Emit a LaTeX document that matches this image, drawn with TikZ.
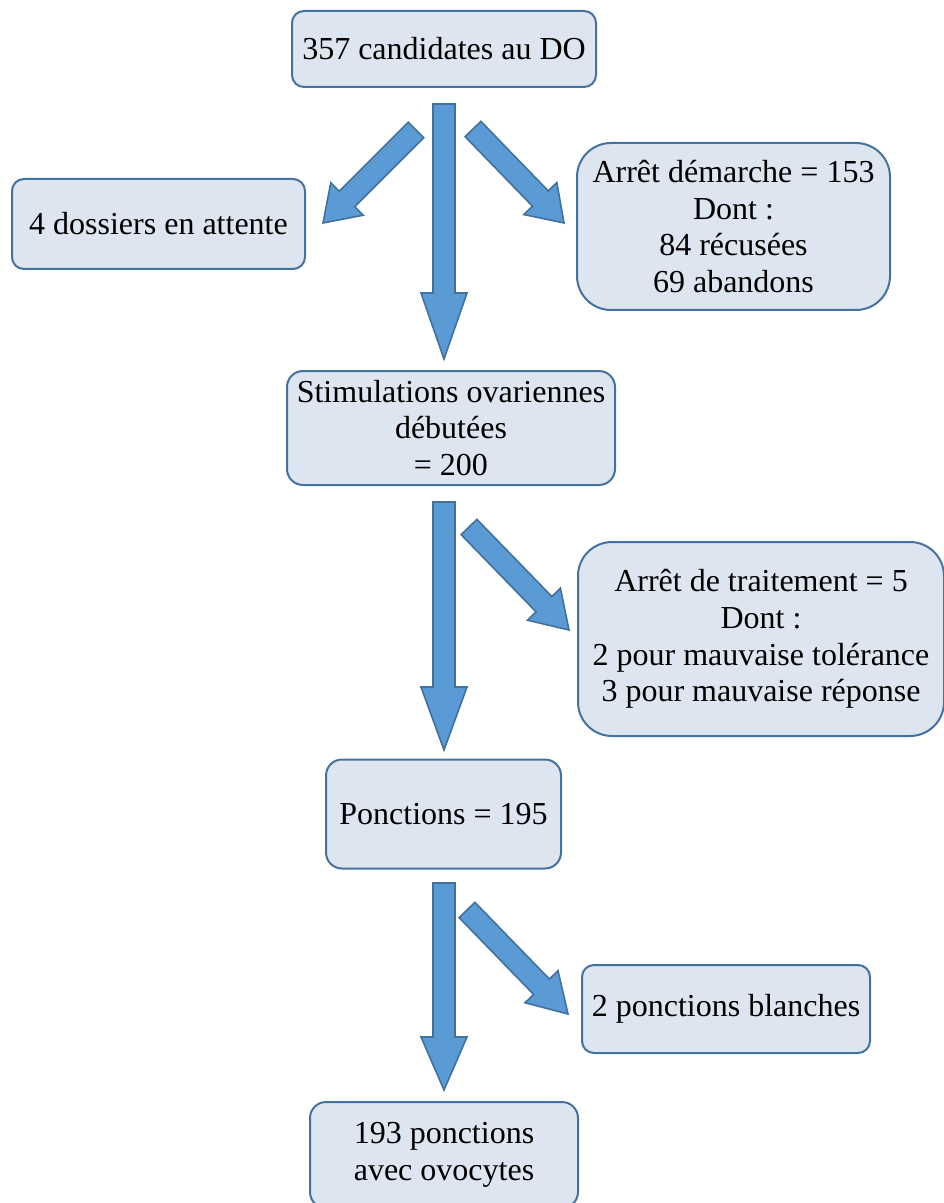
\documentclass[tikz,border=0pt]{standalone}
\usepackage{fontspec}
\setmainfont{Liberation Serif}
\usetikzlibrary{calc}
\definecolor{boxfill}{RGB}{221,229,240}
\definecolor{boxline}{RGB}{68,114,160}
\definecolor{arrfill}{RGB}{91,155,213}
\definecolor{arrline}{RGB}{65,113,156}
\newcommand\blockarr[3]{%
  \coordinate (bh) at ($(#2)!#3!(#1)$);
  \draw[barr] ($(#1)!5.5pt!90:(#2)$) -- ($(bh)!5.5pt!-90:(#1)$) -- ($(bh)!11.5pt!-90:(#1)$) -- (#2)
    -- ($(bh)!11.5pt!90:(#1)$) -- ($(bh)!5.5pt!90:(#1)$) -- ($(#1)!5.5pt!-90:(#2)$) -- cycle;}
\begin{document}
\begin{tikzpicture}[x=0.5pt,y=-0.5pt,
  box/.style={draw=boxline, line width=1pt, fill=boxfill, rounded corners=6pt,
    align=center, inner sep=0pt, font=\fontsize{16}{18.4}\selectfont},
  barr/.style={draw=arrline, fill=arrfill, line width=0.8pt, line join=miter}]
\useasboundingbox (0,0) rectangle (943,1203);

\node[box, minimum width=152pt, minimum height=38pt] (top) at (444,49) {357 candidates au DO};
\node[box, minimum width=146.5pt, minimum height=45pt] (att) at (158.5,224) {4 dossiers en attente};
\node[box, rounded corners=17pt, minimum width=156.5pt, minimum height=83.5pt] (arr1) at (733.5,226.5)
  {Arrêt démarche = 153\\Dont :\\84 récusées\\69 abandons};
\node[box, rounded corners=8pt, minimum width=164pt, minimum height=57pt] (stim) at (451,428)
  {Stimulations ovariennes\\débutées\\ = 200};
\node[box, rounded corners=17pt, minimum width=183pt, minimum height=97pt] (arr2) at (761,639)
  {Arrêt de traitement = 5\\Dont :\\2 pour mauvaise tolérance\\3 pour mauvaise réponse};
\node[box, rounded corners=8pt, minimum width=117.5pt, minimum height=54.5pt] (ponc) at (443.5,814)
  {Ponctions = 195};
\node[box, minimum width=144pt, minimum height=44pt] (blan) at (726,1009) {2 ponctions blanches};
\node[box, rounded corners=8pt, minimum width=134pt, minimum height=53pt] (ovo) at (444,1155)
  {193 ponctions\\avec ovocytes};

\coordinate (s1) at (444,104); \coordinate (t1) at (444,359);
\coordinate (s2) at (416,130); \coordinate (t2) at (323,223);
\coordinate (s3) at (473,129); \coordinate (t3) at (564,223);
\coordinate (s4) at (444,502); \coordinate (t4) at (444,750);
\coordinate (s5) at (469,527); \coordinate (t5) at (569,630);
\coordinate (s6) at (444,883); \coordinate (t6) at (444,1090);
\coordinate (s7) at (467,910); \coordinate (t7) at (568,1014);

\blockarr{s1}{t1}{33pt}
\blockarr{s2}{t2}{17pt}
\blockarr{s3}{t3}{17pt}
\blockarr{s4}{t4}{31.5pt}
\blockarr{s5}{t5}{18pt}
\blockarr{s6}{t6}{26.5pt}
\blockarr{s7}{t7}{19pt}
\end{tikzpicture}
\end{document}
